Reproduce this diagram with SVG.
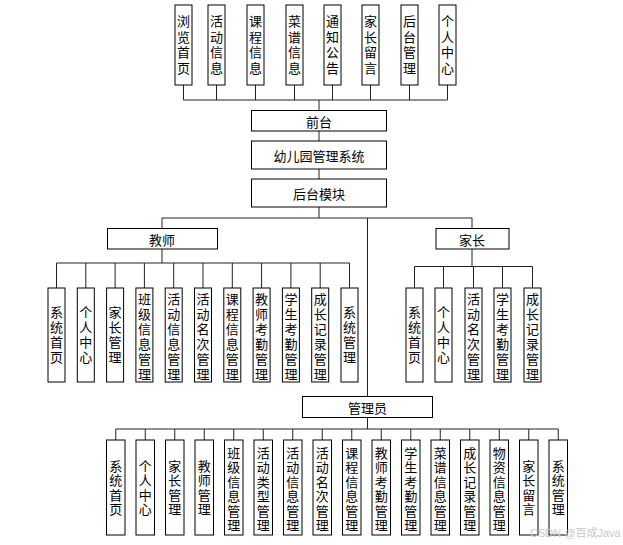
<svg xmlns="http://www.w3.org/2000/svg" width="623" height="545" viewBox="0 0 623 545">
<style>
.bx{fill:#fff;stroke:#000;stroke-width:1}
.t{font-family:"Noto Sans CJK SC","Liberation Sans",sans-serif;font-size:13px;fill:#000;text-anchor:middle;dominant-baseline:central}
.v{font-family:"Noto Sans CJK SC","Liberation Sans",sans-serif;font-size:13px;fill:#000;text-anchor:middle;writing-mode:vertical-rl}
.vt{letter-spacing:2.5px}
.vm{letter-spacing:2px}
.va{letter-spacing:1.5px}
.ln{fill:none;stroke:#222;stroke-width:1}
.wm{font-family:"Liberation Sans","Noto Sans CJK SC",sans-serif;font-size:11px;fill:#c8c8c8}
</style>
<rect width="623" height="545" fill="#fff"/>
<g id="connectors">
<path class="ln" d="M183.5 85V100M216.5 85V100M255.5 85V100M294.5 85V100M332.5 85V100M370.5 85V100M409.5 85V100M447.5 85V100M183.5 100H447.5M319 100V110"/>
<path class="ln" d="M319 131V141M319 169V179M319 207V218M162 218H472M162 218V228M472 218V228M367.5 218V396.5"/>
<path class="ln" d="M162 249V263M56.5 263H349.5M56.5 263V288M85.8 263V288M115.1 263V288M144.4 263V288M173.7 263V288M203 263V288M232.3 263V288M261.6 263V288M290.9 263V288M320.2 263V288M349.5 263V288"/>
<path class="ln" d="M472 249V266.5M414.5 266.5H532.5M414.5 266.5V288M443.5 266.5V288M473.5 266.5V288M502.5 266.5V288M532.5 266.5V288"/>
<path class="ln" d="M367.5 417.5V429M115.75 429H558.25M115.75 429V440M145.25 429V440M174.75 429V440M204.25 429V440M233.75 429V440M263.25 429V440M292.75 429V440M322.25 429V440M351.75 429V440M381.25 429V440M410.75 429V440M440.25 429V440M469.75 429V440M499.25 429V440M528.75 429V440M558.25 429V440"/>
</g>
<g id="top1"><rect class="bx" x="175" y="5" width="17" height="80"/><text class="v vt" x="183.5" y="46">浏览首页</text></g>
<g id="top2"><rect class="bx" x="208" y="5" width="17" height="80"/><text class="v vt" x="216.5" y="46">活动信息</text></g>
<g id="top3"><rect class="bx" x="247" y="5" width="17" height="80"/><text class="v vt" x="255.5" y="46">课程信息</text></g>
<g id="top4"><rect class="bx" x="286" y="5" width="17" height="80"/><text class="v vt" x="294.5" y="46">菜谱信息</text></g>
<g id="top5"><rect class="bx" x="324" y="5" width="17" height="80"/><text class="v vt" x="332.5" y="46">通知公告</text></g>
<g id="top6"><rect class="bx" x="362" y="5" width="17" height="80"/><text class="v vt" x="370.5" y="46">家长留言</text></g>
<g id="top7"><rect class="bx" x="401" y="5" width="17" height="80"/><text class="v vt" x="409.5" y="46">后台管理</text></g>
<g id="top8"><rect class="bx" x="439" y="5" width="17" height="80"/><text class="v vt" x="447.5" y="46">个人中心</text></g>
<g id="qiantai"><rect class="bx" x="251.5" y="110.5" width="135" height="20.5"/><text class="t" x="319" y="121">前台</text></g>
<g id="system"><rect class="bx" x="251.5" y="141" width="135" height="28"/><text class="t" x="319" y="155">幼儿园管理系统</text></g>
<g id="houtai"><rect class="bx" x="251.5" y="179" width="135" height="28"/><text class="t" x="319" y="193">后台模块</text></g>
<g id="teacher"><rect class="bx" x="107.5" y="228.5" width="110" height="20.5"/><text class="t" x="162" y="239">教师</text></g>
<g id="parent"><rect class="bx" x="436" y="228.5" width="73" height="20.5"/><text class="t" x="472" y="239">家长</text></g>
<g id="admin"><rect class="bx" x="302.5" y="396.5" width="130" height="21"/><text class="t" x="367.5" y="407">管理员</text></g>
<g id="t1"><rect class="bx" x="48" y="288" width="17" height="94"/><text class="v vm" x="56.5" y="335.5">系统首页</text></g>
<g id="t2"><rect class="bx" x="77.3" y="288" width="17" height="94"/><text class="v vm" x="85.8" y="335.5">个人中心</text></g>
<g id="t3"><rect class="bx" x="106.6" y="288" width="17" height="94"/><text class="v vm" x="115.1" y="335.5">家长管理</text></g>
<g id="t4"><rect class="bx" x="135.9" y="288" width="17" height="94"/><text class="v vm" x="144.4" y="338">班级信息管理</text></g>
<g id="t5"><rect class="bx" x="165.2" y="288" width="17" height="94"/><text class="v vm" x="173.7" y="338">活动信息管理</text></g>
<g id="t6"><rect class="bx" x="194.5" y="288" width="17" height="94"/><text class="v vm" x="203" y="338">活动名次管理</text></g>
<g id="t7"><rect class="bx" x="223.8" y="288" width="17" height="94"/><text class="v vm" x="232.3" y="338">课程信息管理</text></g>
<g id="t8"><rect class="bx" x="253.1" y="288" width="17" height="94"/><text class="v vm" x="261.6" y="338">教师考勤管理</text></g>
<g id="t9"><rect class="bx" x="282.4" y="288" width="17" height="94"/><text class="v vm" x="290.9" y="338">学生考勤管理</text></g>
<g id="t10"><rect class="bx" x="311.7" y="288" width="17" height="94"/><text class="v vm" x="320.2" y="338">成长记录管理</text></g>
<g id="t11"><rect class="bx" x="341" y="288" width="17" height="94"/><text class="v vm" x="349.5" y="335.5">系统管理</text></g>
<g id="p1"><rect class="bx" x="406" y="288" width="17" height="94"/><text class="v vm" x="414.5" y="335.5">系统首页</text></g>
<g id="p2"><rect class="bx" x="435" y="288" width="17" height="94"/><text class="v vm" x="443.5" y="335.5">个人中心</text></g>
<g id="p3"><rect class="bx" x="465" y="288" width="17" height="94"/><text class="v vm" x="473.5" y="338">活动名次管理</text></g>
<g id="p4"><rect class="bx" x="494" y="288" width="17" height="94"/><text class="v vm" x="502.5" y="338">学生考勤管理</text></g>
<g id="p5"><rect class="bx" x="524" y="288" width="17" height="94"/><text class="v vm" x="532.5" y="338">成长记录管理</text></g>
<g id="a1"><rect class="bx" x="106.5" y="440" width="18.5" height="95"/><text class="v va" x="115.75" y="488.25">系统首页</text></g>
<g id="a2"><rect class="bx" x="136" y="440" width="18.5" height="95"/><text class="v va" x="145.25" y="488.25">个人中心</text></g>
<g id="a3"><rect class="bx" x="165.5" y="440" width="18.5" height="95"/><text class="v va" x="174.75" y="488.25">家长管理</text></g>
<g id="a4"><rect class="bx" x="195" y="440" width="18.5" height="95"/><text class="v va" x="204.25" y="488.25">教师管理</text></g>
<g id="a5"><rect class="bx" x="224.5" y="440" width="18.5" height="95"/><text class="v va" x="233.75" y="489.75">班级信息管理</text></g>
<g id="a6"><rect class="bx" x="254" y="440" width="18.5" height="95"/><text class="v va" x="263.25" y="489.75">活动类型管理</text></g>
<g id="a7"><rect class="bx" x="283.5" y="440" width="18.5" height="95"/><text class="v va" x="292.75" y="489.75">活动信息管理</text></g>
<g id="a8"><rect class="bx" x="313" y="440" width="18.5" height="95"/><text class="v va" x="322.25" y="489.75">活动名次管理</text></g>
<g id="a9"><rect class="bx" x="342.5" y="440" width="18.5" height="95"/><text class="v va" x="351.75" y="489.75">课程信息管理</text></g>
<g id="a10"><rect class="bx" x="372" y="440" width="18.5" height="95"/><text class="v va" x="381.25" y="489.75">教师考勤管理</text></g>
<g id="a11"><rect class="bx" x="401.5" y="440" width="18.5" height="95"/><text class="v va" x="410.75" y="489.75">学生考勤管理</text></g>
<g id="a12"><rect class="bx" x="431" y="440" width="18.5" height="95"/><text class="v va" x="440.25" y="489.75">菜谱信息管理</text></g>
<g id="a13"><rect class="bx" x="460.5" y="440" width="18.5" height="95"/><text class="v va" x="469.75" y="489.75">成长记录管理</text></g>
<g id="a14"><rect class="bx" x="490" y="440" width="18.5" height="95"/><text class="v va" x="499.25" y="489.75">物资信息管理</text></g>
<g id="a15"><rect class="bx" x="519.5" y="440" width="18.5" height="95"/><text class="v va" x="528.75" y="488.25">家长留言</text></g>
<g id="a16"><rect class="bx" x="549" y="440" width="18.5" height="95"/><text class="v va" x="558.25" y="488.25">系统管理</text></g>
<text class="wm" x="530" y="537">CSDN @百成Java</text>
</svg>
